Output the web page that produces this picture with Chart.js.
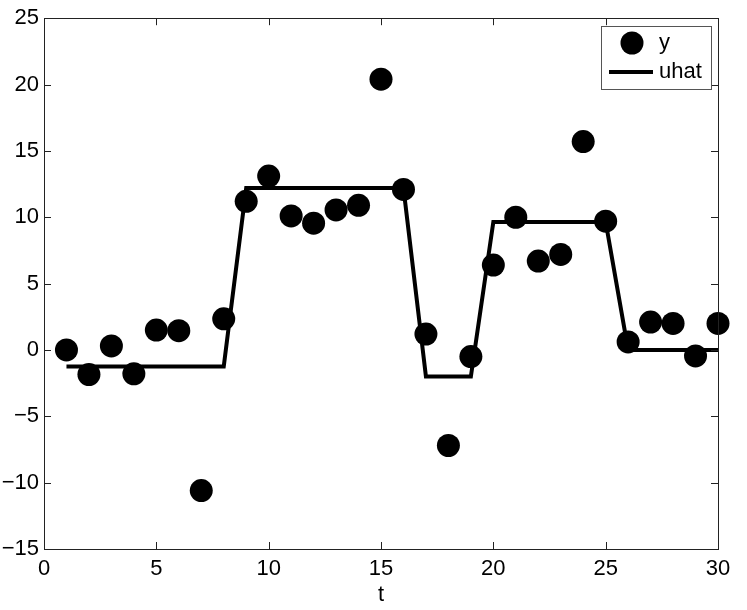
<!DOCTYPE html>
<html>
<head>
<meta charset="utf-8">
<script src="https://cdn.jsdelivr.net/npm/chart.js@4"></script>
<style>
  html, body { margin: 0; padding: 0; background: #fff; }
  #wrap { width: 747px; height: 610px; }
</style>
</head>
<body>
<div id="wrap"><canvas id="chart" width="747" height="610"></canvas></div>
<script>
// Данные
const tValues = [1, 2, 3, 4, 5, 6, 7, 8, 9, 10, 11, 12, 13, 14, 15,
                 16, 17, 18, 19, 20, 21, 22, 23, 24, 25, 26, 27, 28, 29, 30];
const yValues = [0, -1.85, 0.3, -1.8, 1.5, 1.45, -10.6, 2.35, 11.2, 13.1, 10.1, 9.55, 10.55, 10.9, 20.4,
                 12.1, 1.2, -7.2, -0.5, 6.4, 10.0, 6.7, 7.2, 15.7, 9.7, 0.6, 2.1, 2.0, -0.45, 2.0];
const uhatValues = [-1.25, -1.25, -1.25, -1.25, -1.25, -1.25, -1.25, -1.25,
                    12.2, 12.2, 12.2, 12.2, 12.2, 12.2, 12.2, 12.2,
                    -2.0, -2.0, -2.0,
                    9.65, 9.65, 9.65, 9.65, 9.65, 9.65,
                    0, 0, 0, 0, 0];
const xTicks = [0, 5, 10, 15, 20, 25, 30];
const yTicks = [-15, -10, -5, 0, 5, 10, 15, 20, 25];

const FONT = "'Liberation Sans', Arial, Helvetica, sans-serif";
const FONT_SIZE = 22;

// Рамка, внутренние засечки и легенда в стиле MATLAB
const matlabFrame = {
  id: 'matlabFrame',
  afterDatasetsDraw(chart) {
    const { ctx, chartArea: a, scales: { x, y } } = chart;
    const tick = 7;
    ctx.save();
    ctx.strokeStyle = '#222';
    ctx.lineWidth = 1;
    ctx.beginPath();
    xTicks.forEach(v => {
      const px = Math.round(x.getPixelForValue(v)) + 0.5;
      ctx.moveTo(px, a.bottom); ctx.lineTo(px, a.bottom - tick);
      ctx.moveTo(px, a.top); ctx.lineTo(px, a.top + tick);
    });
    yTicks.forEach(v => {
      const py = Math.round(y.getPixelForValue(v)) + 0.5;
      ctx.moveTo(a.left, py); ctx.lineTo(a.left + tick, py);
      ctx.moveTo(a.right, py); ctx.lineTo(a.right - tick, py);
    });
    ctx.stroke();
    ctx.strokeRect(Math.round(a.left) + 0.5, Math.round(a.top) + 0.5,
                   Math.round(a.right - a.left), Math.round(a.bottom - a.top));

    // Легенда
    const bw = 110, bh = 63;
    const bx = Math.round(a.right) - 7 - bw;
    const by = Math.round(a.top) + 8;
    ctx.fillStyle = '#fff';
    ctx.fillRect(bx, by, bw, bh);
    ctx.strokeStyle = '#555';
    ctx.strokeRect(bx + 0.5, by + 0.5, bw, bh);

    const ds = chart.data.datasets;
    ctx.fillStyle = '#000';
    ctx.beginPath();
    ctx.arc(bx + 31, by + 17, 11.5, 0, Math.PI * 2);
    ctx.fill();
    ctx.strokeStyle = '#000';
    ctx.lineWidth = 4;
    ctx.beginPath();
    ctx.moveTo(bx + 8, by + 46);
    ctx.lineTo(bx + 52, by + 46);
    ctx.stroke();

    ctx.font = FONT_SIZE + 'px ' + FONT;
    ctx.textBaseline = 'middle';
    ctx.textAlign = 'left';
    ctx.fillText(ds[0].label, bx + 58, by + 17);
    ctx.fillText(ds[1].label, bx + 58, by + 46);
    ctx.restore();
  }
};

const minus = v => String(v).replace('-', '\u2212');

const ctx = document.getElementById('chart').getContext('2d');
new Chart(ctx, {
  type: 'line',
  data: {
    datasets: [
      {
        label: 'y',
        data: tValues.map((t, i) => ({ x: t, y: yValues[i] })),
        showLine: false,
        pointRadius: 11.5,
        pointBackgroundColor: '#000',
        pointBorderColor: '#000',
        pointBorderWidth: 0,
        clip: false
      },
      {
        label: 'uhat',
        data: tValues.map((t, i) => ({ x: t, y: uhatValues[i] })),
        borderColor: '#000',
        borderWidth: 4,
        pointRadius: 0,
        tension: 0,
        fill: false,
        clip: false
      }
    ]
  },
  options: {
    responsive: false,
    animation: false,
    events: [],
    layout: { padding: { top: 18, right: 29, left: 0, bottom: 0 } },
    plugins: {
      legend: { display: false },
      tooltip: { enabled: false }
    },
    scales: {
      x: {
        type: 'linear',
        min: 0,
        max: 30,
        afterBuildTicks: s => { s.ticks = xTicks.map(v => ({ value: v })); },
        afterFit: s => { s.height = 61; },
        grid: { display: false, drawTicks: false },
        border: { display: false },
        ticks: {
          padding: 7,
          color: '#000',
          font: { family: FONT, size: FONT_SIZE },
          maxRotation: 0,
          callback: v => minus(v)
        },
        title: {
          display: true,
          text: 't',
          color: '#000',
          font: { family: FONT, size: FONT_SIZE },
          padding: { top: 0, bottom: 2 }
        }
      },
      y: {
        type: 'linear',
        min: -15,
        max: 25,
        afterBuildTicks: s => { s.ticks = yTicks.map(v => ({ value: v })); },
        afterFit: s => { s.width = 44; },
        grid: { display: false, drawTicks: false },
        border: { display: false },
        ticks: {
          padding: 5,
          color: '#000',
          font: { family: FONT, size: FONT_SIZE },
          callback: v => minus(v)
        }
      }
    }
  },
  plugins: [matlabFrame]
});
</script>
</body>
</html>
